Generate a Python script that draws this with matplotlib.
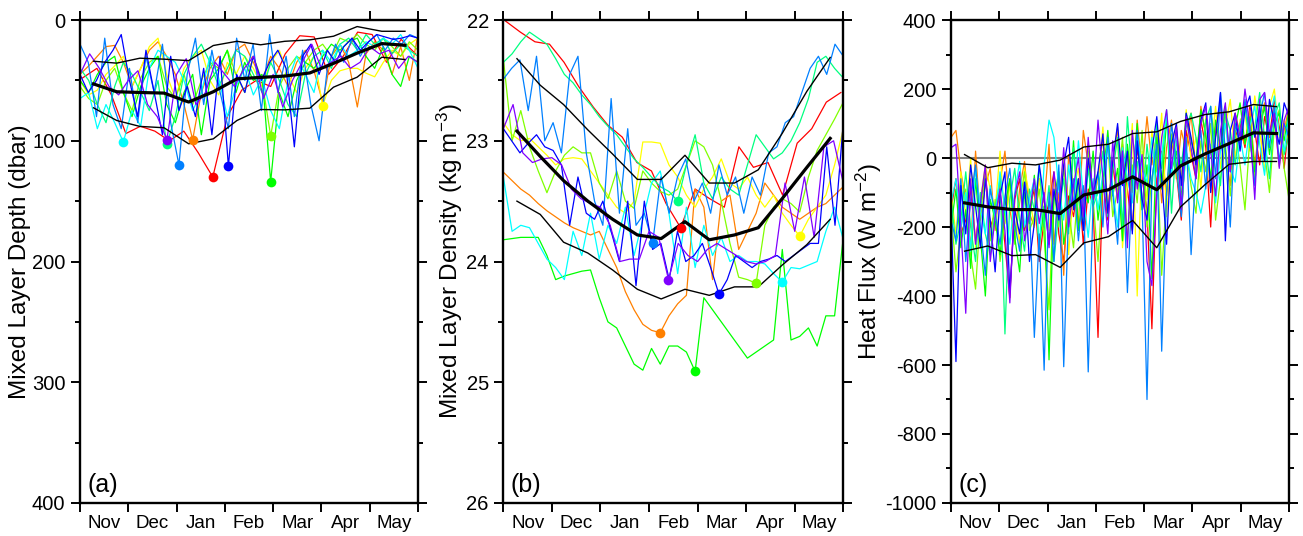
import numpy as np
import matplotlib
matplotlib.use("Agg")
from matplotlib import pyplot as plt

plt.rcParams['font.family'] = ['Liberation Sans', 'DejaVu Sans']
plt.rcParams['axes.unicode_minus'] = False
plt.rcParams['mathtext.default'] = 'regular'

months = ['Nov', 'Dec', 'Jan', 'Feb', 'Mar', 'Apr', 'May']

# float colours (rainbow)
colors = {'red': '#ff0000', 'orange': '#ff8000', 'yellow': '#ffff00', 'chart': '#80ff00',
          'green': '#00ff00', 'spring': '#00ff80', 'cyan': '#00ffff', 'dodger': '#0080ff',
          'blue': '#0000ff', 'purple': '#8000ff'}

# profile times (months since 1 Nov) -- regular cycles per float
t_prof = {'red': np.linspace(0.05, 6.95, 24), 'orange': np.linspace(0, 7, 40),
          'yellow': np.linspace(0, 7, 40), 'chart': np.linspace(0, 7, 40),
          'green': np.linspace(0, 7, 40), 'spring': np.linspace(0, 7, 40),
          'cyan': np.linspace(0, 7, 40), 'dodger': np.linspace(0, 7, 42),
          'blue': np.linspace(0, 7, 42), 'purple': np.linspace(0, 7, 36)}

# ---- (a) mixed layer depth (dbar)
mld_red = [48, 40, 62, 94, 88, 92, 100, 92, 110, 130, 80, 58, 50, 55, 28, 13, 14, 45, 30, 10, 12, 35, 16, 28]
mld_orange = [45, 38, 30, 22, 21, 35, 55, 40, 25, 18, 30, 45, 70, 99, 60, 40, 30, 45, 25, 20,
              35, 50, 30, 40, 55, 35, 25, 42, 68, 30, 20, 35, 72, 28, 18, 25, 45, 22, 50, 12]
mld_yellow = [50, 62, 58, 45, 38, 30, 55, 40, 22, 15, 45, 65, 40, 30, 25, 50, 62, 35, 45, 30,
              40, 55, 35, 25, 45, 60, 40, 30, 71, 50, 42, 40, 40, 44, 47, 35, 25, 30, 20, 15]
mld_chart = [55, 65, 70, 50, 40, 60, 75, 48, 35, 30, 55, 65, 45, 70, 50, 35, 40, 25, 45, 60,
             30, 50, 96, 55, 40, 30, 35, 25, 20, 30, 15, 18, 12, 20, 25, 15, 22, 30, 18, 25]
mld_green = [50, 60, 45, 35, 30, 60, 80, 55, 40, 30, 70, 85, 60, 45, 95, 50, 40, 25, 60, 35,
             50, 45, 134, 60, 80, 50, 35, 40, 30, 20, 25, 18, 15, 30, 40, 22, 45, 55, 30, 35]
mld_spring = [40, 50, 70, 85, 55, 35, 45, 60, 75, 50, 103, 80, 45, 30, 20, 35, 55, 40, 25, 30,
              45, 60, 35, 50, 70, 80, 45, 30, 25, 40, 20, 15, 25, 12, 20, 15, 28, 20, 25, 30]
mld_cyan = [65, 60, 90, 70, 85, 101, 75, 88, 40, 25, 30, 35, 50, 75, 60, 30, 48, 80, 55, 40,
            62, 48, 75, 90, 50, 30, 45, 60, 25, 35, 20, 30, 25, 18, 22, 15, 20, 12, 25, 40]
mld_dodger = [20, 35, 80, 15, 70, 90, 40, 85, 30, 60, 20, 85, 120, 45, 15, 70, 25, 60, 90, 15, 50,
              20, 75, 12, 60, 30, 80, 25, 70, 100, 40, 20, 35, 15, 30, 18, 12, 25, 15, 20, 12, 15]
mld_blue = [45, 60, 50, 35, 25, 12, 50, 80, 25, 60, 95, 30, 75, 55, 80, 40, 95, 30, 121, 45, 60,
            30, 50, 35, 25, 40, 105, 30, 20, 45, 25, 35, 22, 15, 25, 18, 12, 14, 16, 15, 13, 15]
mld_purple = [45, 28, 40, 55, 62, 50, 42, 70, 80, 99, 45, 32, 70, 60, 35, 45, 55, 40, 30, 65,
              45, 72, 50, 35, 20, 40, 35, 30, 40, 35, 22, 28, 25, 40, 30, 35]

t_stat = [0.28, 0.76, 1.24, 1.74, 2.25, 2.76, 3.25, 3.74, 4.24, 4.76, 5.25, 5.74, 6.25, 6.73]
mld_mean = [52.9, 59.4, 60.0, 60.5, 67.9, 59.4, 48.7, 47.5, 46.4, 43.8, 35.9, 27.4, 19.5, 20.9]
mld_hi = [34.1, 35.7, 31.6, 32.4, 33.6, 21.1, 17.6, 20.5, 17.6, 16.4, 13.4, 5.4, 9.3, 9.3]
mld_lo = [72.7, 83.2, 88.1, 89.2, 102.5, 98.4, 83.2, 74.1, 74.4, 73.0, 55.6, 47.3, 30.8, 32.7]

# ---- (b) mixed layer density (kg m-3)
den_red = [22.01, 22.10, 22.18, 22.20, 22.35, 22.55, 22.72, 22.87, 22.97, 23.18, 23.25, 23.52,
           23.72, 23.40, 23.48, 23.55, 23.05, 23.22, 23.18, 23.45, 23.02, 22.90, 22.68, 22.60]
den_orange = [23.26, 23.33, 23.40, 23.45, 23.52, 23.58, 23.63, 23.68, 23.72, 23.75, 23.78, 23.75,
              23.90, 24.05, 24.25, 24.40, 24.52, 24.57, 24.59, 24.45, 24.35, 24.28, 23.40, 23.55,
              24.15, 23.50, 23.45, 23.90, 23.75, 23.60, 23.35, 23.45, 23.55, 23.60, 23.65, 23.60,
              23.55, 23.52, 23.45, 23.38]
den_yellow = [22.85, 22.95, 23.00, 22.98, 23.05, 23.12, 23.20, 23.15, 23.14, 23.15, 23.25, 23.35,
              23.45, 23.55, 23.60, 23.50, 23.01, 23.01, 23.02, 23.20, 23.30, 23.45, 23.55, 23.40,
              23.30, 23.15, 23.35, 23.40, 23.30, 23.45, 23.55, 23.45, 23.60, 23.70, 23.79, 23.65,
              23.55, 23.45, 23.20, 22.90]
den_chart = [22.32, 23.00, 22.75, 23.05, 23.25, 23.43, 23.25, 23.12, 23.05, 23.10, 23.10, 23.35,
             23.48, 23.25, 23.50, 23.56, 23.25, 23.35, 23.42, 23.45, 23.40, 23.20, 23.00, 23.05,
             23.20, 23.50, 23.85, 24.13, 24.15, 24.18, 23.70, 23.55, 23.48, 23.52, 23.59, 23.30,
             23.08, 22.95, 22.82, 22.68]
den_green = [23.82, 23.81, 23.80, 23.80, 23.80, 23.95, 24.15, 24.12, 24.10, 24.08, 24.07, 24.30,
             24.50, 24.55, 24.70, 24.85, 24.90, 24.72, 24.85, 24.70, 24.70, 24.75, 24.91, 24.30,
             24.40, 24.50, 24.60, 24.70, 24.80, 24.75, 24.70, 24.65, 23.90, 24.65, 24.62, 24.55,
             24.70, 24.45, 24.45, 23.80]
den_spring = [22.35, 22.28, 22.18, 22.10, 22.15, 22.20, 22.32, 22.45, 22.52, 22.62, 22.70, 22.80,
              22.88, 22.95, 23.05, 23.15, 23.22, 23.30, 23.38, 23.42, 23.50, 23.20, 22.95, 23.35,
              23.48, 23.30, 23.40, 23.45, 23.20, 22.95, 23.05, 23.15, 23.10, 23.00, 22.85, 22.65,
              22.35, 22.30, 22.40, 22.48]
den_cyan = [23.30, 23.75, 23.70, 23.72, 23.85, 23.98, 24.05, 24.15, 23.75, 23.95, 23.60, 23.98,
            23.70, 23.85, 23.55, 23.95, 23.65, 23.35, 23.25, 23.60, 24.10, 23.55, 24.05, 23.70,
            23.95, 23.80, 24.00, 23.95, 24.00, 24.00, 24.02, 24.10, 24.17, 24.05, 24.06, 24.03,
            24.00, 23.75, 23.55, 23.82]
den_dodger = [22.49, 22.40, 22.33, 22.75, 22.30, 23.00, 22.85, 23.10, 22.45, 22.30, 23.10, 23.50,
              23.70, 22.65, 23.60, 22.90, 23.70, 23.60, 23.85, 23.30, 23.60, 23.30, 23.15, 23.50,
              23.35, 23.60, 23.20, 23.45, 23.30, 23.60, 23.30, 23.45, 23.10, 23.05, 22.85, 22.80,
              22.60, 22.40, 22.30, 22.45, 22.20, 22.30]
den_blue = [22.90, 23.00, 23.10, 23.02, 22.95, 23.05, 23.08, 23.20, 23.70, 23.30, 23.60, 23.65,
            23.50, 23.75, 24.00, 23.50, 24.20, 23.50, 23.90, 23.85, 24.15, 23.75, 24.00, 23.95,
            23.85, 24.05, 24.27, 24.15, 23.95, 24.00, 24.05, 24.00, 23.98, 23.95, 24.00, 23.95,
            23.90, 23.85, 23.85, 23.05, 23.70, 22.85]
den_purple = [22.90, 22.70, 23.10, 23.18, 23.15, 23.14, 23.20, 23.40, 23.48, 23.52, 23.55, 23.70,
              24.00, 23.98, 23.98, 23.75, 23.80, 24.15, 23.85, 23.95, 24.00, 23.90, 23.85, 23.90,
              23.95, 24.00, 24.02, 24.00, 23.95, 23.35, 23.75, 23.30, 23.80, 23.05, 23.00, 23.35]

den_mean = [22.92, 23.13, 23.33, 23.50, 23.65, 23.78, 23.81, 23.67, 23.82, 23.78, 23.72, 23.48, 23.22, 22.98]
den_hi = [22.32, 22.54, 22.70, 22.91, 23.11, 23.32, 23.32, 23.12, 23.35, 23.35, 23.24, 22.94, 22.59, 22.31]
den_lo = [23.50, 23.61, 23.84, 23.93, 24.07, 24.23, 24.31, 24.23, 24.28, 24.21, 24.21, 24.03, 23.86, 23.65]

# ---- (c) surface heat flux (W m-2), roughly 3-daily
hf = {
    'red': [-150, -60, -220, -180, -90, -240, -130, -40, -200, -160,
            -100, -250, -405, -120, -60, -210, -150, -90, -300, -180,
            -130, -40, -220, -300, -110, -170, -60, -250, -90, -140,
            -520, -60, -180, -20, -120, 40, -90, -210, 30, -60,
            -150, -495, -60, 20, -110, 60, -40, -180, 80, 10,
            -60, 110, 30, -200, 90, 20, 140, -40, 60, 100,
            30, 150, 80, -20, 120, 60, 170, 90, -30, 110],
    'orange': [60, 80, -40, -120, -260, 20, -180, -80, -30, -210,
               -70, 20, -150, -230, -90, -10, -160, -200, -60, -130,
               40, -250, -100, -340, 10, -80, -190, 80, -20, -130,
               -60, 60, -150, -20, 90, -230, 20, -100, 110, -40,
               120, -20, 70, -130, 30, 110, -60, 80, 20, 130,
               -40, 150, 60, -100, 90, 160, 20, -80, 130, 70,
               40, 140, -20, 100, 160, 60, 120, -25, 80, 150],
    'yellow': [-100, -220, -40, -170, 0, -260, -120, -20, -90, -150,
               20, -190, -80, -140, -250, -30, -110, -200, -60, -160,
               -210, -60, -140, 10, -280, -90, -30, -170, 40, -110,
               -60, 90, -150, -10, 60, -260, -80, 100, -400, 20,
               -120, 80, -40, 130, -170, 30, 100, -60, 140, -10,
               60, -90, 120, 10, 150, -30, 90, 170, 0, 110,
               130, 20, 180, 80, -40, 150, 200, 60, 110, 30],
    'chart': [-150, -330, -210, -90, -280, -380, -160, -50, -240, -120,
              -300, -180, -60, -250, -130, -40, -210, -170, -90, -230,
              -440, -100, -200, -30, -150, -260, -70, -180, 20, -120,
              -300, -60, 40, -170, -90, 60, -240, -20, -130, 80,
              -200, -60, 30, -340, -100, 70, -30, -150, 20, -80,
              -160, 50, -40, 100, -180, -60, 40, -110, 80, -20,
              -150, 60, -60, 120, 20, -100, 90, 140, -30, -120],
    'green': [-200, -90, -260, -150, -320, -60, -230, -400, -120, -180,
              -280, -140, -60, -230, -330, -100, -190, -50, -260, -140,
              -585, -120, -40, -250, -160, 50, -210, -90, -130, 20,
              -180, -60, 80, -110, -30, -240, 40, -80, 100, -150,
              -20, -350, 60, -90, 110, -40, 20, -120, 130, 50,
              -10, 140, 70, -60, 110, 30, 150, -20, 90, 160,
              40, 120, -40, 80, 150, 10, 100, 130, 50, 140],
    'spring': [-120, -250, -180, -40, -200, -300, -100, -220, -280, -150,
               -60, -510, -120, -30, -180, -270, -90, -150, -20, -200,
               -80, -300, -150, -60, -220, 30, -120, -200, -30, -140,
               -100, 20, -170, -40, 60, -200, 120, -60, -10, -150,
               40, -90, 100, -30, 140, -160, 50, -20, 90, 130,
               60, -40, 110, 150, 20, -80, 130, 80, -20, 100,
               150, 30, 90, 190, 60, -60, 120, 160, 10, 70],
    'cyan': [-130, -60, -200, -100, -270, -30, -150, -220, -80, -180,
             -40, -150, -250, -100, -10, -200, -120, -60, -260, -20,
             110, 60, -90, -180, -20, -140, 50, -110, -230, -60,
             -150, -40, 40, -90, -200, 30, -60, -130, 70, -30,
             -70, 60, -120, 10, 130, -50, 80, -140, 20, -60,
             -100, -160, -80, 40, -130, 20, 100, -30, -70, 60,
             -20, 90, 150, 40, -50, 110, 180, 70, 20, 130],
    'dodger': [-180, -240, -60, -300, -120, -20, -200, -340, -90, -160,
               -250, -110, -30, -190, -270, -70, -140, -520, -220, -615,
               -100, -300, -20, -605, -150, -60, -240, -80, -620, -130,
               -40, -200, 60, -100, -250, 20, -390, -70, 80, -130,
               -700, -60, 40, -560, -100, 100, -20, -170, 60, -280,
               -30, 80, -90, 150, -60, 190, 20, -200, 100, 40,
               170, 60, -80, 120, 190, 30, 150, -10, 100, 60],
    'blue': [-160, -590, -80, -220, -20, -140, -260, -60, -180, -330,
             -110, -40, -390, -150, -220, -70, -300, -190, -20, -120,
             -250, -90, -180, -20, 60, -150, -60, -210, 0, -100,
             -40, 70, -160, -10, 100, -80, 20, -220, 50, -120,
             -180, 20, 120, -60, -250, 40, 100, -80, 130, 60,
             -20, 110, 160, -100, 60, 190, -240, 80, 130, 20,
             140, 180, 60, 150, -10, 170, 100, 40, 160, 120],
    'purple': [30, 40, -200, -450, -60, -250, -130, -20, -300, -170,
               -90, -210, -420, -110, -40, -240, -160, -60, -190, -100,
               -260, -40, -150, 30, -200, -80, 0, -170, 60, -120,
               110, -60, -220, 50, -130, 20, -260, 80, -90, 10,
               -300, -370, -100, 60, 140, -30, 90, -150, 120, 30,
               -60, 100, 150, 20, -110, 80, 160, -40, 130, 60,
               200, 90, -120, 170, 190, 70, 130, -30, 110, 150],
}
t_hf = np.linspace(0, 7, 70)

hf_mean = [-130, -141.6, -149.5, -149.5, -161, -107, -92, -54.5, -92, -23, 12, 42, 73, 71]
hf_hi = [10, -28, -15, -20, -6, 32, 40, 71, 76, 106, 126, 134, 155, 149]
hf_lo = [-270, -255, -283, -280, -317, -246, -228, -181, -260, -142, -77, -18, -10, -10]
t_stat_c = [0.28, 0.76, 1.26, 1.75, 2.26, 2.75, 3.26, 3.76, 4.26, 4.75, 5.26, 5.76, 6.26, 6.74]

mld = {'red': mld_red, 'orange': mld_orange, 'yellow': mld_yellow, 'chart': mld_chart,
       'green': mld_green, 'spring': mld_spring, 'cyan': mld_cyan, 'dodger': mld_dodger,
       'blue': mld_blue, 'purple': mld_purple}
den = {'red': den_red, 'orange': den_orange, 'yellow': den_yellow, 'chart': den_chart,
       'green': den_green, 'spring': den_spring, 'cyan': den_cyan, 'dodger': den_dodger,
       'blue': den_blue, 'purple': den_purple}


def style_axis(ax, label, letter):
    ax.set_xlim(0, 7)
    ax.set_xticks(range(8))
    ax.set_xticklabels([])
    ax.set_xticks(np.arange(0.5, 7, 1), minor=True)
    ax.set_xticklabels(months, minor=True)
    ax.tick_params(axis='both', which='both', direction='out', width=1.4,
                   top=True, right=True, labelsize=14.5, pad=4)
    ax.tick_params(axis='both', which='major', length=6.5)
    ax.tick_params(axis='y', which='minor', length=3.3)
    ax.tick_params(axis='x', which='minor', length=0, top=False, bottom=False,
                   labelsize=13.5, pad=9)
    for s in ax.spines.values():
        s.set_linewidth(1.7)
    ax.set_ylabel(label, fontsize=17.5, labelpad=1)
    ax.text(0.022, 0.012, letter, transform=ax.transAxes, fontsize=18,
            ha='left', va='bottom')


fig = plt.figure(figsize=(13.03, 5.36), dpi=100)
bottom, height = 0.0616, 0.901
ax_a = fig.add_axes([0.0614, bottom, 0.2594, height])
ax_b = fig.add_axes([0.3863, bottom, 0.2609, height])
ax_c = fig.add_axes([0.7299, bottom, 0.2594, height])

# (a)
for k in colors:
    ax_a.plot(t_prof[k], mld[k], color=colors[k], lw=0.9)
ax_a.plot(t_stat, mld_hi, color='k', lw=1.0)
ax_a.plot(t_stat, mld_lo, color='k', lw=1.0)
ax_a.plot(t_stat, mld_mean, color='k', lw=2.3)
for k in colors:
    i = int(np.argmax(mld[k]))
    ax_a.plot(t_prof[k][i], mld[k][i], 'o', color=colors[k], ms=7, mec='none')
ax_a.set_ylim(400, 0)
ax_a.set_yticks(range(0, 401, 100))
ax_a.set_yticks(range(50, 400, 100), minor=True)
style_axis(ax_a, 'Mixed Layer Depth (dbar)', '(a)')

# (b)
for k in colors:
    ax_b.plot(t_prof[k], den[k], color=colors[k], lw=0.9)
ax_b.plot(t_stat, den_hi, color='k', lw=1.0)
ax_b.plot(t_stat, den_lo, color='k', lw=1.0)
ax_b.plot(t_stat, den_mean, color='k', lw=2.3)
for k in colors:
    i = int(np.argmax(den[k]))
    ax_b.plot(t_prof[k][i], den[k][i], 'o', color=colors[k], ms=7, mec='none')
ax_b.set_ylim(26, 22)
ax_b.set_yticks(range(22, 27))
ax_b.set_yticks(np.arange(22.5, 26, 1), minor=True)
style_axis(ax_b, 'Mixed Layer Density (kg m$^{-3}$)', '(b)')

# (c)
ax_c.axhline(0, color='#808080', lw=1.5, zorder=1)
for k in colors:
    ax_c.plot(t_hf, hf[k], color=colors[k], lw=0.9)
ax_c.plot(t_stat_c, hf_hi, color='k', lw=1.0)
ax_c.plot(t_stat_c, hf_lo, color='k', lw=1.0)
ax_c.plot(t_stat_c, hf_mean, color='k', lw=2.3)
ax_c.set_ylim(-1000, 400)
ax_c.set_yticks(range(-1000, 401, 200))
ax_c.set_yticks(range(-900, 400, 200), minor=True)
style_axis(ax_c, 'Heat Flux (W m$^{-2}$)', '(c)')

fig.savefig('out.png', dpi=100)
